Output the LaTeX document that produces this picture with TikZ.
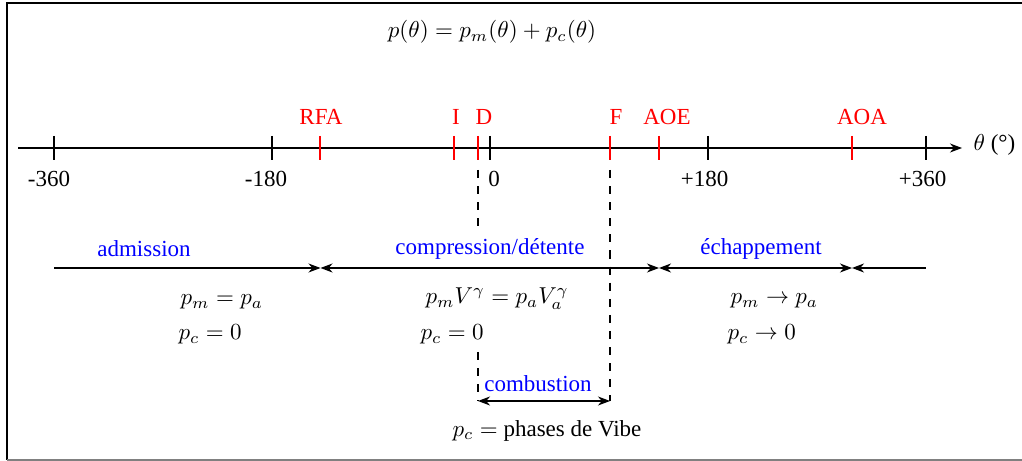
\documentclass[tikz,border=0pt]{standalone}
\usepackage{fontspec}
\setmainfont{Liberation Serif}
\usetikzlibrary{arrows.meta}
\begin{document}
\begin{tikzpicture}[x=0.4348pt,y=-0.4348pt,line width=0.5pt,
  lbl/.style={anchor=base,inner sep=0pt},
  evtlbl/.style={anchor=base,inner sep=0pt,text=red},
  phaselbl/.style={anchor=base,inner sep=0pt,text=blue},
  eqlbl/.style={anchor=base west,inner sep=0pt},
  blacktick/.style={draw=black},
  redtick/.style={draw=red},
  guide/.style={dash pattern=on 3.5pt off 3.5pt},
  span/.style={{Stealth}-{Stealth}}]
\useasboundingbox (0,0) rectangle (1022,461);
% frame
\draw[line width=0.9pt] (1030,3) -- (7,3) -- (7,460);
\draw[gray,line width=0.8pt] (7,460) -- (1030,460);
% title
\node[lbl] (title) at (492,38) {$p(\theta) = p_m(\theta) + p_c(\theta)$};
% axis
\coordinate (ax0) at (18,148);
\coordinate (ax1) at (962,148);
\draw[-{Stealth}] (ax0) -- (ax1);
\node[anchor=base west,inner sep=0pt] (theta) at (973,151) {$\theta$ (°)};
% black ticks
\foreach \x in {54,272,490,708,926}{\draw[blacktick] (\x,136) -- (\x,160);}
\node[lbl] (m360) at (49,187) {-360};
\node[lbl] (m180) at (266,187) {-180};
\node[lbl] (z0) at (494,187) {0};
\node[lbl] (p180) at (704.5,187) {+180};
\node[lbl] (p360) at (922.5,187) {+360};
% red ticks
\foreach \x in {320,454,478,610,659,852}{\draw[redtick] (\x,136) -- (\x,160);}
\node[evtlbl] (rfa) at (321,125) {RFA};
\node[evtlbl] (ii) at (456,125) {I};
\node[evtlbl] (dd) at (484,125) {D};
\node[evtlbl] (ff) at (616,125) {F};
\node[evtlbl] (aoe) at (667,125) {AOE};
\node[evtlbl] (aoa) at (862,125) {AOA};
% dashed guides
\coordinate (d0) at (478,170);
\coordinate (d1) at (478,226);
\coordinate (d2) at (478,352);
\coordinate (d3) at (478,401);
\coordinate (f0) at (610,170);
\coordinate (f1) at (610,401);
\draw[guide] (d0) -- (d1);
\draw[guide] (d2) -- (d3);
\draw[guide] (f0) -- (f1);
% phases
\coordinate (a0) at (54,268);
\coordinate (a1) at (320.5,268);
\coordinate (a2) at (659,268);
\coordinate (a3) at (852,268);
\coordinate (a4) at (926,268);
\draw[-{Stealth}] (a0) -- (a1);
\draw[span] (a1) -- (a2);
\draw[span] (a2) -- (a3);
\draw[{Stealth}-] (a3) -- (a4);
\node[phaselbl] (adm) at (144,257) {admission};
\node[phaselbl] (comp) at (490,255) {compression/détente};
\node[phaselbl] (ech) at (761,255) {échappement};
% equations
\node[eqlbl] (e1) at (180,305) {$p_m = p_a$};
\node[eqlbl] (e2) at (178,340) {$p_c = 0$};
\node[eqlbl] (e3) at (425,304) {$p_m V^\gamma = p_a V_a^\gamma$};
\node[eqlbl] (e4) at (420,340) {$p_c = 0$};
\node[eqlbl] (e5) at (730,304) {$p_m \to p_a$};
\node[eqlbl] (e6) at (727,340) {$p_c \to 0$};
% combustion
\draw[span] (d3) -- (f1);
\node[phaselbl] (comb) at (538,391) {combustion};
\node[lbl] (vibe) at (547,436) {$p_c =$ phases de Vibe};
\end{tikzpicture}
\end{document}
